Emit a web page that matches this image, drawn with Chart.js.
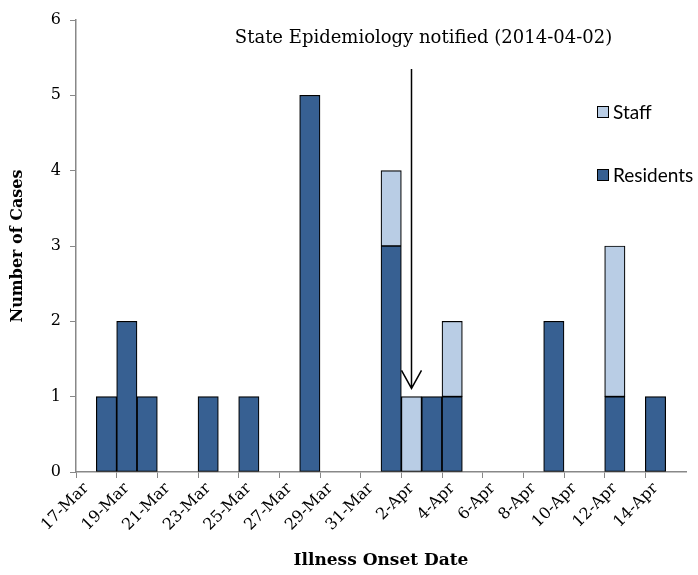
<!DOCTYPE html>
<html>
<head>
<meta charset="utf-8">
<script src="https://cdn.jsdelivr.net/npm/chart.js@4"></script>
<style>
    body { margin: 0; background: #fff; }
    #wrap { position: relative; width: 698px; height: 575px; }
</style>
</head>
<body>
<div id="wrap"><canvas id="cases" width="698" height="575"></canvas></div>
<script>
// one category per day, 17-Mar .. 15-Apr
const days = [
    "17-Mar", "18-Mar", "19-Mar", "20-Mar", "21-Mar", "22-Mar", "23-Mar", "24-Mar",
    "25-Mar", "26-Mar", "27-Mar", "28-Mar", "29-Mar", "30-Mar", "31-Mar", "1-Apr",
    "2-Apr", "3-Apr", "4-Apr", "5-Apr", "6-Apr", "7-Apr", "8-Apr", "9-Apr",
    "10-Apr", "11-Apr", "12-Apr", "13-Apr", "14-Apr", "15-Apr"
]
const residents = [0, 1, 2, 1, 0, 0, 1, 0, 1, 0, 0, 5, 0, 0, 0, 3, 0, 1, 1, 0, 0, 0, 0, 2, 0, 0, 1, 0, 1, 0]
const staff     = [0, 0, 0, 0, 0, 0, 0, 0, 0, 0, 0, 0, 0, 0, 0, 1, 1, 0, 1, 0, 0, 0, 0, 0, 0, 0, 2, 0, 0, 0]
const notifiedDay = "2-Apr"
const notifiedText = "State Epidemiology notified (2014-04-02)"

const serif = "'DejaVu Serif', 'Liberation Serif', serif"
const sans = "Lato, 'Liberation Sans', sans-serif"
const darkBlue = "#376092"
const lightBlue = "#B9CDE5"

const overlay = {
    id: "overlay",
    afterDraw(chart) {
        const ctx = chart.ctx
        const x = chart.scales.x
        const y = chart.scales.y
        const ax = x.getPixelForValue(days.indexOf(notifiedDay))
        ctx.save()
        // note + arrow
        ctx.fillStyle = "#000"
        ctx.font = "18px " + serif
        ctx.textAlign = "center"
        ctx.textBaseline = "middle"
        ctx.fillText(notifiedText, ax + 12, y.getPixelForValue(5.76))
        const top = y.getPixelForValue(5.35)
        const tip = y.getPixelForValue(1.11)
        ctx.strokeStyle = "#000"
        ctx.lineWidth = 1.5
        ctx.beginPath()
        ctx.moveTo(ax, top)
        ctx.lineTo(ax, tip)
        ctx.moveTo(ax - 10, tip - 18)
        ctx.lineTo(ax, tip)
        ctx.lineTo(ax + 10, tip - 18)
        ctx.stroke()
        // legend
        const items = [["Staff", lightBlue], ["Residents", darkBlue]]
        ctx.font = "19px " + sans
        ctx.textAlign = "left"
        items.forEach(([label, color], i) => {
            const ly = 112 + i * 63
            ctx.fillStyle = color
            ctx.fillRect(597, ly - 6, 12, 12)
            ctx.lineWidth = 1
            ctx.strokeRect(597.5, ly - 5.5, 11, 11)
            ctx.fillStyle = "#000"
            ctx.fillText(label, 613, ly + 1)
        })
        ctx.restore()
    }
}

new Chart("cases", {
    type: "bar",
    data: {
        labels: days,
        datasets: [
            {
                label: "Residents",
                data: residents,
                backgroundColor: darkBlue,
                borderColor: "#000",
                borderWidth: 1.2,
                borderSkipped: false
            },
            {
                label: "Staff",
                data: staff,
                backgroundColor: lightBlue,
                borderColor: "#000",
                borderWidth: 1.2,
                borderSkipped: false
            }
        ]
    },
    options: {
        responsive: false,
        animation: false,
        layout: { padding: { top: 20, right: 12 } },
        plugins: { legend: { display: false }, tooltip: { enabled: false } },
        datasets: { bar: { barPercentage: 1, categoryPercentage: 1 } },
        scales: {
            x: {
                stacked: true,
                offset: true,
                grid: {
                    offset: true,
                    drawOnChartArea: false,
                    tickLength: 6,
                    tickColor: c => c.index % 2 === 0 ? "#888" : "rgba(0,0,0,0)"
                },
                border: { color: "#888", width: 1.5 },
                ticks: {
                    autoSkip: false,
                    minRotation: 45,
                    maxRotation: 45,
                    labelOffset: 0,
                    padding: 1,
                    color: "#000",
                    font: { family: serif, size: 16 },
                    callback: (v, i) => i % 2 === 0 ? days[i] : ""
                },
                title: {
                    display: true,
                    text: "Illness Onset Date",
                    color: "#000",
                    font: { family: serif, size: 17, weight: "bold" }
                },
                afterFit: s => { s.height = 103 }
            },
            y: {
                stacked: true,
                min: 0,
                max: 6,
                grid: { drawOnChartArea: false, tickLength: 6, tickColor: "#888" },
                border: { color: "#888", width: 1.5 },
                ticks: {
                    stepSize: 1,
                    padding: 9,
                    color: "#000",
                    font: { family: serif, size: 16 }
                },
                title: {
                    display: true,
                    text: "Number of Cases",
                    color: "#000",
                    padding: { top: 8, bottom: 4 },
                    font: { family: serif, size: 16, weight: "bold" }
                },
                afterFit: s => { s.width = 76 }
            }
        }
    },
    plugins: [overlay]
})
</script>
</body>
</html>
